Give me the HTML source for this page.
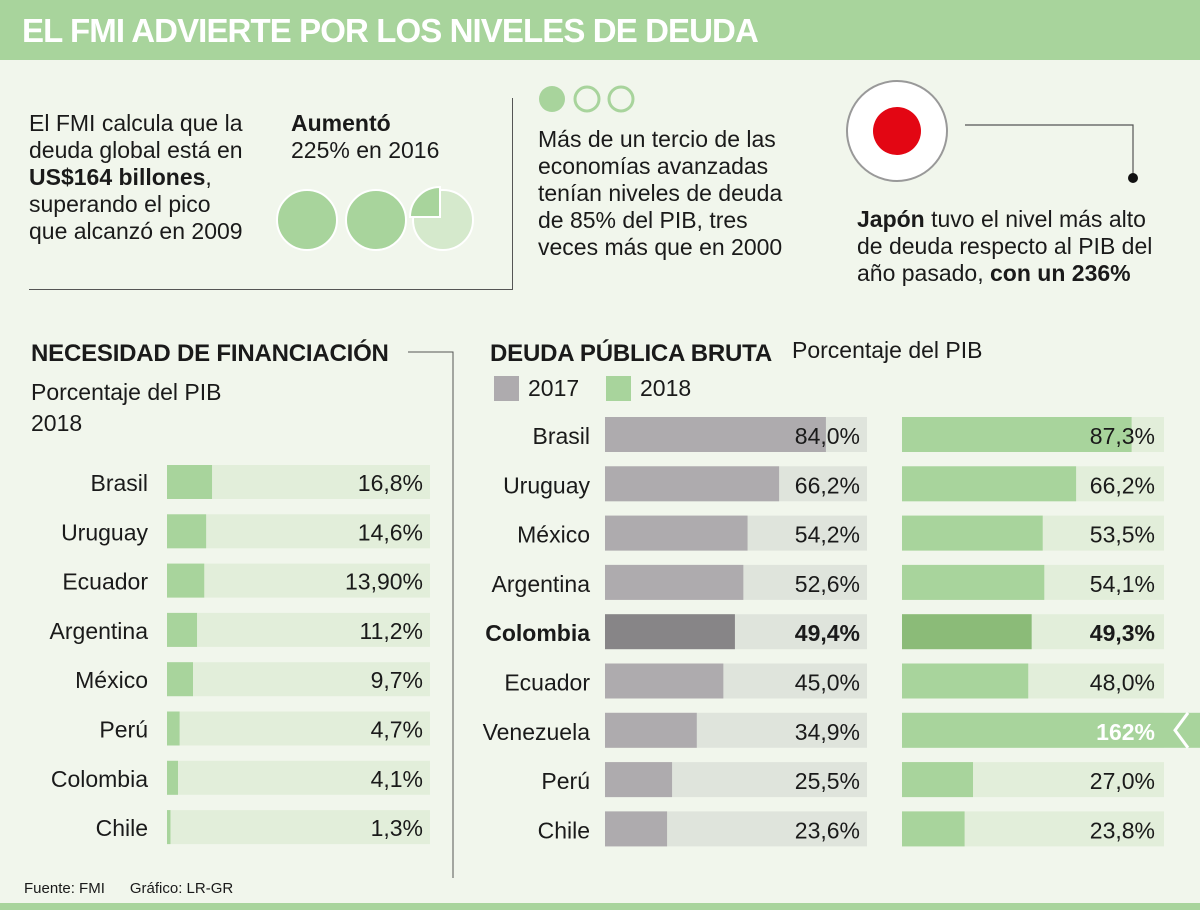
<!DOCTYPE html>
<html><head><meta charset="utf-8"><style>
body{margin:0;width:1200px;height:910px;background:#f1f6ec;font-family:"Liberation Sans",sans-serif;color:#1a1a1a;position:relative;overflow:hidden}
.a{position:absolute}
.t{font-size:23px;line-height:27px;white-space:nowrap}
</style></head><body>
<div class="a" style="left:0;top:0;width:1200px;height:60px;background:#a8d49c"></div>
<div class="a" style="left:22px;top:12px;font-size:33px;font-weight:bold;color:#fff;letter-spacing:-0.9px">EL FMI ADVIERTE POR LOS NIVELES DE DEUDA</div>

<div class="a t" style="left:29px;top:110px">El FMI calcula que la<br>deuda global está en<br><b>US$164 billones</b>,<br>superando el pico<br>que alcanzó en 2009</div>
<div class="a t" style="left:291px;top:110px"><b>Aumentó</b><br>225% en 2016</div>
<svg class="a" style="left:270px;top:185px" width="210" height="70">
<circle cx="37" cy="35" r="30" fill="#a8d49c" stroke="#fff" stroke-width="2"/>
<circle cx="106" cy="35" r="30" fill="#a8d49c" stroke="#fff" stroke-width="2"/>
<circle cx="173" cy="35" r="30" fill="#d5e9cc" stroke="#fff" stroke-width="2"/>
<path d="M173 35 L173 5 A30 30 0 0 0 143 35 Z" transform="translate(-3,-3)" fill="#a8d49c" stroke="#fff" stroke-width="2"/>
</svg>
<div class="a" style="left:29px;top:289px;width:484px;height:1px;background:#555"></div>
<div class="a" style="left:512px;top:98px;width:1px;height:192px;background:#555"></div>

<svg class="a" style="left:535px;top:84px" width="110" height="32">
<circle cx="17" cy="15" r="13" fill="#a8d49c"/><circle cx="52" cy="15" r="12" fill="none" stroke="#a8d49c" stroke-width="3"/><circle cx="86" cy="15" r="12" fill="none" stroke="#a8d49c" stroke-width="3"/>
</svg>
<div class="a t" style="left:538px;top:126px">Más de un tercio de las<br>economías avanzadas<br>tenían niveles de deuda<br>de 85% del PIB, tres<br>veces más que en 2000</div>

<svg class="a" style="left:845px;top:78px" width="300" height="110">
<circle cx="52" cy="53" r="50" fill="#fff" stroke="#999" stroke-width="2"/>
<circle cx="52" cy="53" r="24" fill="#e30613"/>
<polyline points="120,47 288,47 288,100" fill="none" stroke="#555" stroke-width="1.2"/>
<circle cx="288" cy="100" r="5" fill="#111"/>
</svg>
<div class="a t" style="left:857px;top:206px"><b>Japón</b> tuvo el nivel más alto<br>de deuda respecto al PIB del<br>año pasado, <b>con un 236%</b></div>

<div class="a" style="left:31px;top:340px;font-size:24px;font-weight:bold;letter-spacing:-0.2px">NECESIDAD DE FINANCIACIÓN</div>
<svg class="a" style="left:400px;top:340px" width="60" height="540"><polyline points="8,12 53,12 53,538" fill="none" stroke="#555" stroke-width="1"/></svg>
<div class="a t" style="left:31px;top:377px;line-height:31px">Porcentaje del PIB<br>2018</div>

<div class="a" style="left:490px;top:340px;font-size:24px;font-weight:bold;letter-spacing:-0.2px">DEUDA PÚBLICA BRUTA</div>
<div class="a t" style="left:792px;top:337px">Porcentaje del PIB</div>
<div class="a" style="left:494px;top:376px;width:25px;height:25px;background:#aeabae"></div>
<div class="a t" style="left:528px;top:375px">2017</div>
<div class="a" style="left:606px;top:376px;width:25px;height:25px;background:#a8d49c"></div>
<div class="a t" style="left:640px;top:375px">2018</div>

<svg id="ch" class="a" style="left:0;top:0" width="1200" height="910"></svg>

<div class="a" style="left:24px;top:880px;font-size:15px">Fuente: FMI &nbsp;&nbsp;&nbsp;&nbsp; Gráfico: LR-GR</div>
<div class="a" style="left:0;top:903px;width:1200px;height:7px;background:#a8d49c"></div>

<script>
const finCountries=["Brasil","Uruguay","Ecuador","Argentina","México","Perú","Colombia","Chile"];
const finValues=[16.8,14.6,13.9,11.2,9.7,4.7,4.1,1.3];
const finLabels=["16,8%","14,6%","13,90%","11,2%","9,7%","4,7%","4,1%","1,3%"];
const debtCountries=["Brasil","Uruguay","México","Argentina","Colombia","Ecuador","Venezuela","Perú","Chile"];
const debt2017=[84.0,66.2,54.2,52.6,49.4,45.0,34.9,25.5,23.6];
const debt2018=[87.3,66.2,53.5,54.1,49.3,48.0,162,27.0,23.8];
const labels2017=["84,0%","66,2%","54,2%","52,6%","49,4%","45,0%","34,9%","25,5%","23,6%"];
const labels2018=["87,3%","66,2%","53,5%","54,1%","49,3%","48,0%","162%","27,0%","23,8%"];

const svg=document.getElementById('ch');const NS="http://www.w3.org/2000/svg";
function mk(tag,at,txt){const e=document.createElementNS(NS,tag);for(const k in at)e.setAttribute(k,at[k]);if(txt!==undefined)e.textContent=txt;svg.appendChild(e);return e;}
const FONT='"Liberation Sans",sans-serif';
const FS=23;
const fx=v=>167+v*2.68, fy=i=>465+i*49.3;
finCountries.forEach((c,i)=>{
 let e=mk('rect',{x:167,y:fy(i),width:263,height:34,fill:'#e2eeda'});
 
 e=mk('rect',{x:167,y:fy(i),width:fx(finValues[i])-167,height:34,fill:'#a8d49c'});
 
 e=mk('text',{x:148,y:fy(i)+26,'text-anchor':'end','font-family':FONT,'font-size':FS,fill:'#1a1a1a'},c);
 
 e=mk('text',{x:423,y:fy(i)+26,'text-anchor':'end','font-family':FONT,'font-size':FS,fill:'#1a1a1a'},finLabels[i]);
 
});
const S=2.63, dy=i=>417+i*49.3, X1=605, X2=902, W=262;
debtCountries.forEach((c,i)=>{
 const col=c==="Colombia";
 let e=mk('text',{x:590,y:dy(i)+27,'text-anchor':'end','font-family':FONT,'font-size':FS,'font-weight':col?'bold':'normal',fill:'#1a1a1a'},c);
 
 e=mk('rect',{x:X1,y:dy(i),width:W,height:35,fill:'#dfe4dc'});
 
 e=mk('rect',{x:X1,y:dy(i),width:Math.min(debt2017[i]*S,W),height:35,fill:col?'#878587':'#aeabae'});
 
 e=mk('text',{x:860,y:dy(i)+27,'text-anchor':'end','font-family':FONT,'font-size':FS,'font-weight':col?'bold':'normal',fill:'#1a1a1a'},labels2017[i]);
 
 e=mk('rect',{x:X2,y:dy(i),width:W,height:35,fill:'#e2eeda'});
 
 const over=debt2018[i]*S>W;
 const bw=over?1200-X2:debt2018[i]*S;
 e=mk('rect',{x:X2,y:dy(i),width:bw,height:35,fill:col?'#8bbb78':'#a8d49c'});
 
 if(over){
  e=mk('polyline',{points:`${1188},${dy(i)} ${1175},${dy(i)+17.5} ${1188},${dy(i)+35}`,fill:'none',stroke:'#fff','stroke-width':3});
  
 }
 e=mk('text',{x:1155,y:dy(i)+27,'text-anchor':'end','font-family':FONT,'font-size':FS,'font-weight':(col||over)?'bold':'normal',fill:over?'#fff':'#1a1a1a'},labels2018[i]);
 
});
</script>
</body></html>
